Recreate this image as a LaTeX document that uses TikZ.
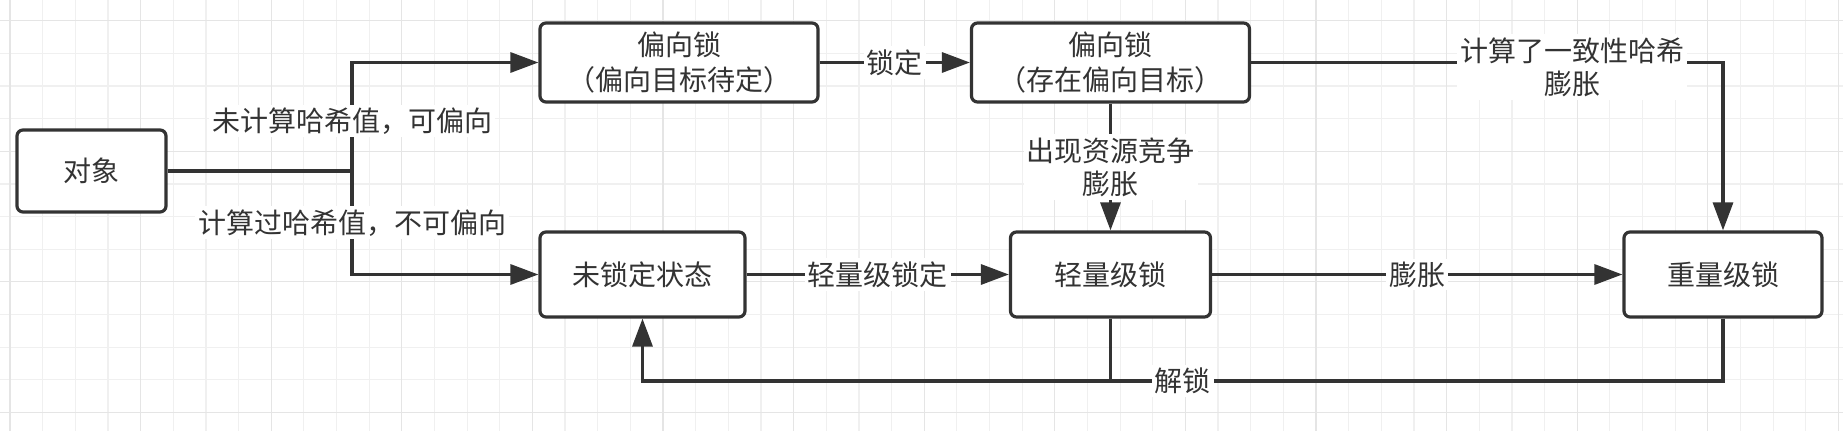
\documentclass[tikz,border=0pt]{standalone}
\usepackage{fontspec}
\setmainfont{Noto Sans CJK SC}
\usetikzlibrary{arrows.meta}
\tikzset{
  state/.style={draw=black!80,text=black!80,line width=1.6pt,rounded corners=3pt,fill=white,align=center,
    font=\fontsize{14}{17.5}\selectfont,inner sep=2pt},
  line/.style={draw=black!80,line width=1.6pt},
  link/.style={line,-{Triangle[length=14pt,width=10pt]}},
  tag/.style={fill=white,text=black!80,inner sep=1.5pt,align=center,font=\fontsize{14}{16.5}\selectfont}
}
\begin{document}
\begin{tikzpicture}[x=0.5pt,y=-0.5pt]
  \useasboundingbox (0,0) rectangle (1843,431);
  \fill[white] (0,0) rectangle (1843,431);
  \foreach \i in {0,...,56}
    \draw[black!6,line width=0.6pt] (10+32.65*\i,0) -- (10+32.65*\i,431);
  \foreach \i in {0,...,12}
    \draw[black!6,line width=0.6pt] (0,20.7+32.65*\i) -- (1843,20.7+32.65*\i);
  \foreach \i in {0,4,...,56}
    \draw[black!10,line width=0.6pt] (10+32.65*\i,0) -- (10+32.65*\i,431);
  \foreach \i in {0,4,...,12}
    \draw[black!10,line width=0.6pt] (0,20.7+32.65*\i) -- (1843,20.7+32.65*\i);

  \node[state,minimum width=74.5pt,minimum height=41pt] (obj) at (91.5,171) {对象};
  \node[state,minimum width=139pt,minimum height=39.5pt] (bias) at (679,62.5) {偏向锁\\（偏向目标待定）};
  \node[state,minimum width=139pt,minimum height=39.5pt] (biased) at (1110.5,62.5) {偏向锁\\（存在偏向目标）};
  \node[state,minimum width=102.5pt,minimum height=42.5pt] (unlocked) at (642.5,274.5) {未锁定状态};
  \node[state,minimum width=100pt,minimum height=42.5pt] (light) at (1110.5,274.5) {轻量级锁};
  \node[state,minimum width=99pt,minimum height=42.5pt] (heavy) at (1723,274.5) {重量级锁};
  \coordinate (split) at (352,171);
  \coordinate (loop) at (0,381);

  \draw[line] (obj) -- (split);
  \draw[link] (split) |- node[tag,pos=0.23]{未计算哈希值，可偏向} (bias);
  \draw[link] (split) |- node[tag,pos=0.25]{计算过哈希值，不可偏向} (unlocked);
  \draw[link] (bias) -- node[tag]{锁定} (biased);
  \draw[link] (biased) -- node[tag]{出现资源竞争\\膨胀} (light);
  \draw[link] (biased.east) -| node[tag,pos=0.34,yshift=-2.25pt]{计算了一致性哈希\\膨胀} (heavy);
  \draw[link] (unlocked) -- node[tag]{轻量级锁定} (light);
  \draw[link] (light) -- node[tag]{膨胀} (heavy);
  \draw[line] (light.south) -- (light.south |- loop);
  \draw[link] (heavy.south) -- (heavy.south |- loop) -| node[tag,pos=0.25]{解锁} (unlocked.south);
\end{tikzpicture}
\end{document}
